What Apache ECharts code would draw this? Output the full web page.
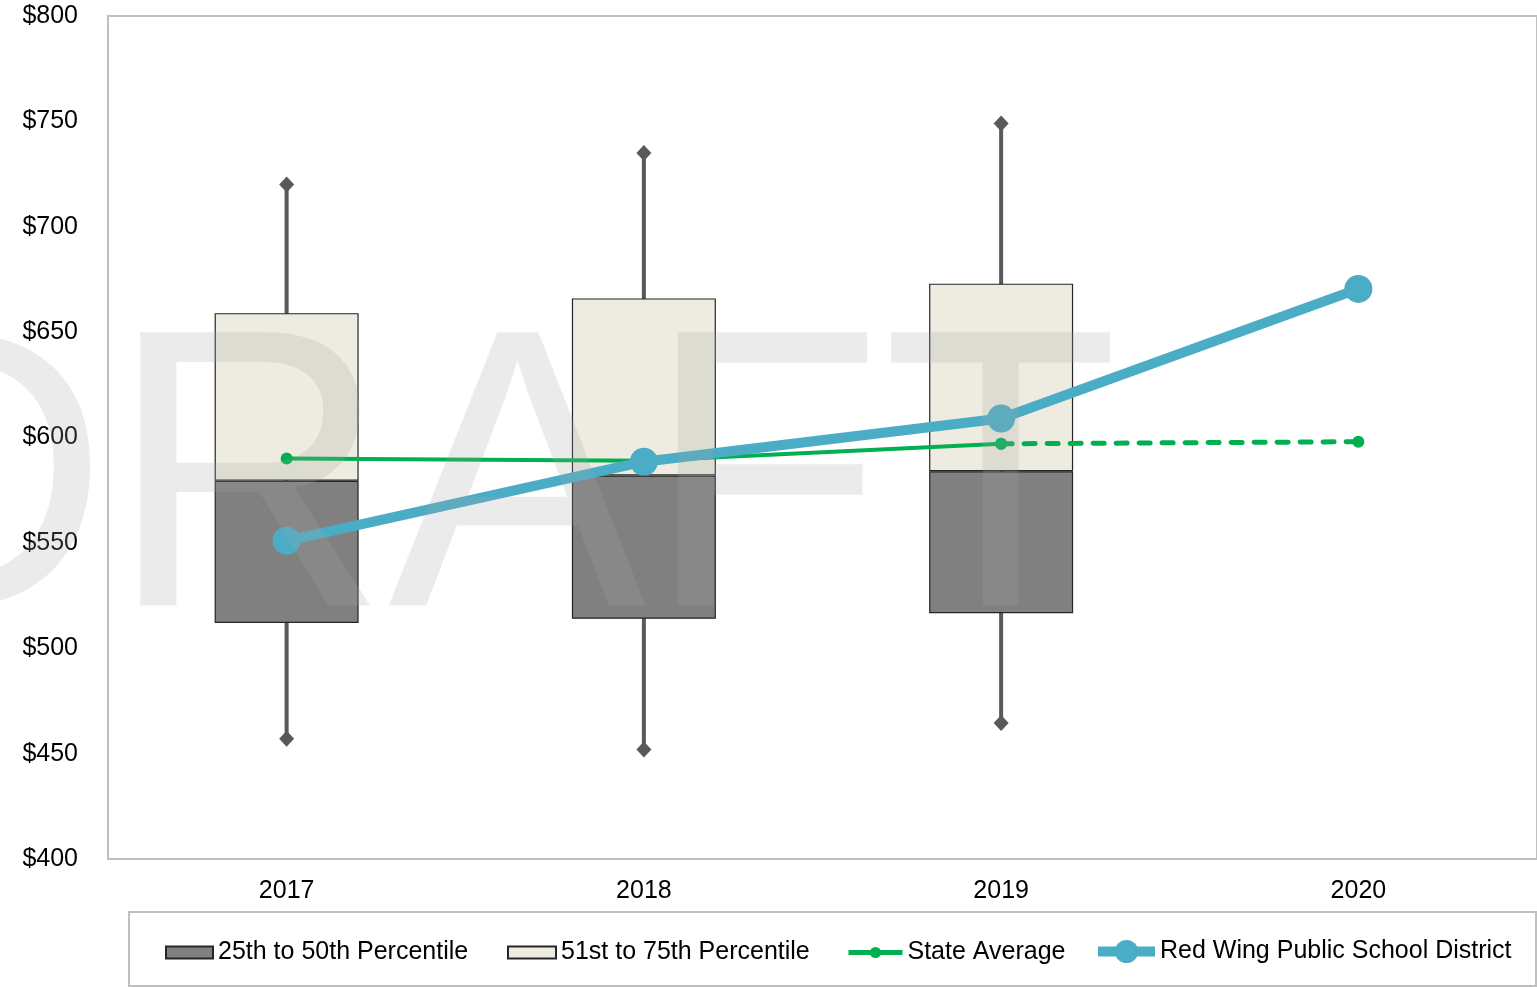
<!DOCTYPE html>
<html>
<head>
<meta charset="utf-8">
<script src="https://cdn.jsdelivr.net/npm/echarts@6/dist/echarts.min.js"></script>
<style>
html,body{margin:0;padding:0;background:#fff;}
#chart{width:1537px;height:987px;}
</style>
</head>
<body>
<div id="chart"></div>
<script>
// ---- data ----
var years = ['2017', '2018', '2019', '2020'];
var whiskerHigh = [720, 735, 749, null];
var q3 = [659, 666, 673, null];
var median = [579.5, 582, 584, null];
var q1 = [512, 514, 516.6, null];
var whiskerLow = [457, 452, 464.5, null];
var stateAvgSolid = [590, 589, 597, null];
var stateAvgDashed = [null, null, 597, 598];
var redWing = [551, 588.5, 609, 670.5];
var yTicks = [400, 450, 500, 550, 600, 650, 700, 750, 800];

var FONT = '"Liberation Sans", Arial, sans-serif';
var chart = echarts.init(document.getElementById('chart'));

function nz(v){ return v == null ? '-' : v; }
var baseData = q1.map(nz);
var darkData = median.map(function(m,i){ return m == null ? '-' : +(m - q1[i]).toFixed(2); });
var lightData = q3.map(function(v,i){ return v == null ? '-' : +(v - median[i]).toFixed(2); });
var whiskerData = [];
var diamondData = [];
years.forEach(function(y,i){
  if (whiskerHigh[i] != null) {
    whiskerData.push([i, whiskerLow[i], whiskerHigh[i]]);
    diamondData.push([i, whiskerHigh[i]]);
    diamondData.push([i, whiskerLow[i]]);
  }
});

var legendText = {fontSize: 25, color: '#000', fontFamily: FONT};
function mkLegend(name, left, w, h, extra) {
  var l = {
    data: [name], left: left, top: 940, itemWidth: w, itemHeight: h, itemGap: 0,
    textStyle: legendText, padding: 0, selectedMode: false
  };
  for (var k in extra) l[k] = extra[k];
  return l;
}

var option = {
  animation: false,
  backgroundColor: '#fff',
  grid: {left: 108, top: 16, right: -2, bottom: 128, show: true, borderColor: '#bfbfbf', borderWidth: 2, backgroundColor: 'transparent'},
  legend: [
    mkLegend('25th to 50th Percentile', 165, 47, 12, {icon: 'rect'}),
    mkLegend('51st to 75th Percentile', 507, 48, 12, {icon: 'rect'}),
    mkLegend('State Average', 846, 54, 14, {lineStyle: {width: 5}}),
    mkLegend('Red Wing Public School District', 1093, 57, 29, {lineStyle: {width: 10}, top: 939})
  ],
  xAxis: {
    type: 'category', data: years, boundaryGap: true,
    axisLine: {show: true, lineStyle: {color: '#bfbfbf', width: 2}},
    axisTick: {show: false},
    axisLabel: {fontSize: 25, color: '#000', fontFamily: FONT, margin: 20}
  },
  yAxis: {
    type: 'value', min: 400, max: 800, interval: 50,
    axisLine: {show: true, lineStyle: {color: '#bfbfbf', width: 2}},
    axisTick: {show: false},
    splitLine: {show: false},
    axisLabel: {fontSize: 25, color: '#000', fontFamily: FONT, margin: 30, padding: [4, 0, 0, 0],
      formatter: function(v){ return '$' + v; }}
  },
  series: [
    {
      type: 'custom', name: 'whisker', z: 1, silent: true,
      renderItem: function(params, api) {
        var lo = api.coord([api.value(0), api.value(1)]);
        var hi = api.coord([api.value(0), api.value(2)]);
        return {type: 'line', shape: {x1: lo[0], y1: lo[1], x2: hi[0], y2: hi[1]},
          style: {stroke: '#595959', lineWidth: 4}};
      },
      data: whiskerData
    },
    {
      type: 'scatter', name: 'ends', z: 1, symbol: 'diamond', symbolSize: [15, 16],
      itemStyle: {color: '#595959', opacity: 1}, data: diamondData, silent: true
    },
    {
      type: 'bar', name: 'base', stack: 'box', barWidth: 144, z: 2, silent: true,
      itemStyle: {color: 'transparent'}, data: baseData
    },
    {
      type: 'bar', name: '25th to 50th Percentile', stack: 'box', barWidth: 144, z: 2,
      itemStyle: {color: '#808080', borderColor: '#262626', borderWidth: 1.2}, data: darkData
    },
    {
      type: 'bar', name: '51st to 75th Percentile', stack: 'box', barWidth: 144, z: 2,
      itemStyle: {color: '#eeece1', borderColor: '#262626', borderWidth: 1.2}, data: lightData
    },
    {
      type: 'line', name: 'State Average', z: 3, symbol: 'circle', symbolSize: 12,
      lineStyle: {color: '#00b050', width: 4}, itemStyle: {color: '#00b050'},
      data: stateAvgSolid
    },
    {
      type: 'line', name: 'State Average', z: 3, symbol: 'circle', symbolSize: 12,
      lineStyle: {color: '#00b050', width: 5, type: [11, 12], cap: 'round'}, itemStyle: {color: '#00b050'},
      data: stateAvgDashed.map(nz)
    },
    {
      type: 'line', name: 'Red Wing Public School District', z: 4, symbol: 'circle', symbolSize: 28,
      lineStyle: {color: '#4bacc6', width: 10}, itemStyle: {color: '#4bacc6'},
      data: redWing
    }
  ],
  graphic: [
    {
      type: 'rect', left: 128, top: 911, z: 0,
      shape: {width: 1407, height: 74},
      style: {fill: 'transparent', stroke: '#bfbfbf', lineWidth: 2}
    },
    {
      type: 'text', z: 100, silent: true,
      x: 474, y: 496, scaleY: 1.026,
      style: {text: 'DRAFT', font: '387px "Liberation Sans", Arial, sans-serif',
        fill: 'rgba(164,164,164,0.22)', align: 'center', verticalAlign: 'middle'}
    }
  ]
};
chart.setOption(option);
</script>
</body>
</html>
